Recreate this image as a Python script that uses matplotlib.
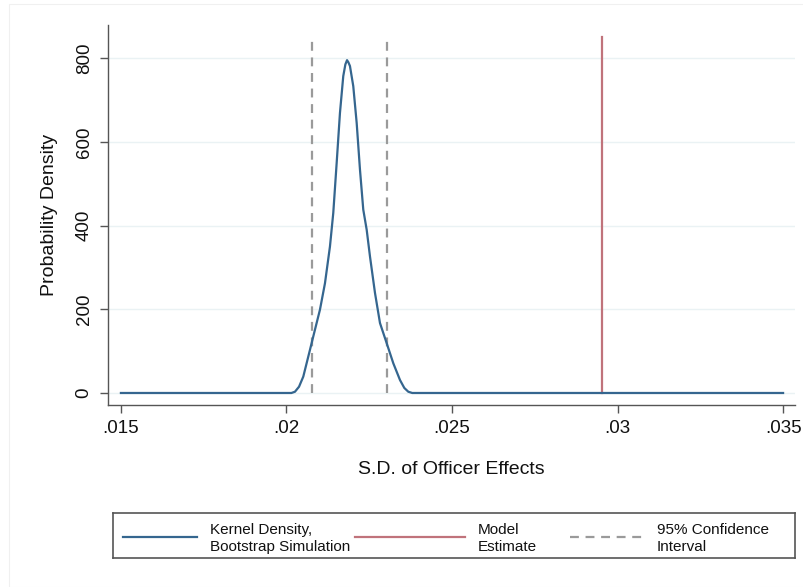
import matplotlib
matplotlib.use("Agg")
from matplotlib import pyplot as plt
from matplotlib.lines import Line2D
from matplotlib.patches import Rectangle

plt.rcParams['font.family'] = ['Liberation Sans', 'DejaVu Sans']

# kernel density of bootstrap estimates
kd_x = [0.0150, 0.0200, 0.020150, 0.020257, 0.020380, 0.020508, 0.020710, 0.020810,
        0.021012, 0.021163, 0.021314, 0.021414, 0.021517, 0.021616, 0.021716,
        0.021780, 0.021830, 0.021870, 0.021918, 0.022018, 0.022121, 0.022221,
        0.022320, 0.022423, 0.022523, 0.022674, 0.022825, 0.023027, 0.023227,
        0.023429, 0.023560, 0.023680, 0.0238, 0.0350]
kd_y = [0, 0, 0, 3, 15, 39, 103, 135, 199, 262, 350, 430, 550, 669, 757,
        785, 795, 790, 781, 733, 645, 533, 438, 390, 326, 239, 167, 119, 71,
        31, 12, 3, 0, 0]

model_estimate = 0.02952
ci_bounds = [0.02078, 0.02304]
vline_top = 850

xticks = [0.015, 0.02, 0.025, 0.03, 0.035]
xtick_labels = ['.015', '.02', '.025', '.03', '.035']
yticks = [0, 200, 400, 600, 800]

W, H = 804, 587
fig = plt.figure(figsize=(W / 100, H / 100), dpi=100)
fig.patch.set_facecolor('white')

# faint outer frame
fig.add_artist(Rectangle((9 / W, 0), 1, 1 - 4 / H, transform=fig.transFigure,
                         fill=False, edgecolor='#f0f0f0', lw=0.8))

ax = fig.add_axes([108 / W, 1 - 405 / H, (795 - 108) / W, (405 - 25) / H])
ax.set_xlim(0.01461, 0.03536)
ax.set_ylim(-28.7, 879)

blue = '#35668f'
red = '#c0737b'
gray = '#9a9a9a'

for t in yticks:
    ax.axhline(t, color='#eaf2f4', lw=1.0, zorder=0)

ax.plot(kd_x, kd_y, color=blue, lw=1.6, zorder=3, solid_joinstyle='round')
ax.plot([model_estimate, model_estimate], [0, vline_top], color=red, lw=1.6, zorder=2)
for b in ci_bounds:
    ax.plot([b, b], [0, vline_top], color=gray, lw=1.6, ls=(0, (4, 3)), zorder=2)

for s in ['top', 'right']:
    ax.spines[s].set_visible(False)
for s in ['left', 'bottom']:
    ax.spines[s].set_color('#555555')
    ax.spines[s].set_linewidth(1.0)

ax.set_xticks(xticks)
ax.set_xticklabels(xtick_labels)
ax.set_yticks(yticks)
ax.set_yticklabels([str(t) for t in yticks], rotation=90, va='center')
ax.tick_params(axis='both', length=6, width=1.0, color='#555555', labelsize=13.5,
               labelcolor='#111111')
ax.tick_params(axis='x', pad=5)
ax.tick_params(axis='y', pad=5)

ax.set_xlabel('S.D. of Officer Effects', fontsize=14, labelpad=17, color='#111111')
ax.set_ylabel('Probability Density', fontsize=14, labelpad=13, color='#111111')

# legend box
lax = fig.add_axes([113 / W, 1 - 558 / H, (795 - 113) / W, (558 - 513) / H])
lax.set_xlim(113, 795)
lax.set_ylim(558, 513)
lax.set_xticks([])
lax.set_yticks([])
for s in lax.spines.values():
    s.set_color('#555555')
    s.set_linewidth(1.2)

entries = [
    (123, 197, blue, '-', 'Kernel Density,\nBootstrap Simulation', 210),
    (355, 465, red, '-', 'Model\nEstimate', 478),
    (570, 645, gray, (0, (4, 3)), '95% Confidence\nInterval', 657),
]
for x0, x1, c, ls, label, tx in entries:
    lax.add_line(Line2D([x0, x1], [537, 537], color=c, lw=1.6, ls=ls))
    lax.text(tx, 538.5, label, fontsize=11, va='center', ha='left',
             linespacing=1.2, color='#111111')

fig.savefig('out.png', dpi=100)
